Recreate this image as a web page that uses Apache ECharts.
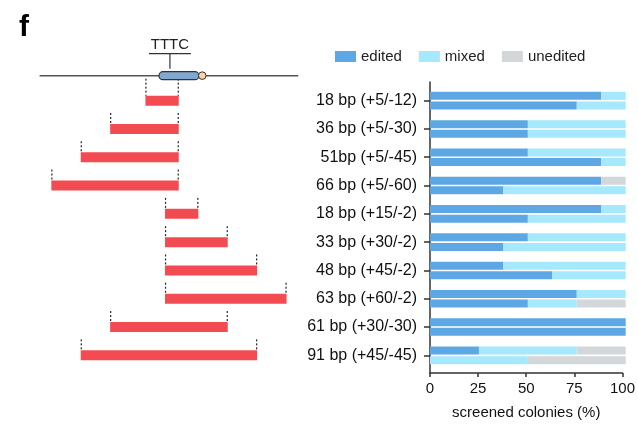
<!DOCTYPE html>
<html><head><meta charset="utf-8">
<script src="https://cdn.jsdelivr.net/npm/echarts@6/dist/echarts.min.js"></script>
<style>html,body{margin:0;padding:0;background:#fff}#c{width:638px;height:425px}</style>
</head><body><div id="c"></div>
<script>
const categories = ['18 bp (+5/-12)','36 bp (+5/-30)','51bp (+5/-45)','66 bp (+5/-60)','18 bp (+15/-2)','33 bp (+30/-2)','48 bp (+45/-2)','63 bp (+60/-2)','61 bp (+30/-30)','91 bp (+45/-45)'];
const delLeft  = [-12,-30,-45,-60,-2,-2,-2,-2,-30,-45];
const delRight = [5,5,5,5,15,30,45,60,30,45];
const edited1   = [87.5,50,50,87.5,87.5,50,37.5,75,100,25];
const mixed1    = [12.5,50,50,0,12.5,50,62.5,25,0,50];
const unedited1 = [0,0,0,12.5,0,0,0,0,0,25];
const edited2   = [75,50,87.5,37.5,50,37.5,62.5,50,100,0];
const mixed2    = [25,50,12.5,62.5,50,62.5,37.5,25,0,50];
const unedited2 = [0,0,0,0,0,0,0,25,0,50];
const xTicks = [0,25,50,75,100];
const seriesNames = ['edited','mixed','unedited'];
const colors = ['#5da7e4','#a6e8fe','#d3d7d9'];

const FONT = '"Liberation Sans", Arial, sans-serif';
const chart = echarts.init(document.getElementById('c'));

const delData = delLeft.map((l,i)=>[l, delRight[i], i]);

function barSeries(name, data, stack, color){
  return {type:'bar', name, data, stack, xAxisIndex:1, yAxisIndex:1,
    barWidth:8, barGap:'20%', itemStyle:{color}, emphasis:{disabled:true}, animation:false};
}

chart.setOption({
  animation:false,
  textStyle:{fontFamily:FONT},
  graphic:[{type:'text', left:19, top:13, style:{text:'f', font:'bold 30px '+FONT, fill:'#000'}}],
  legend:{left:330, top:44, itemWidth:21, itemHeight:11, itemGap:17,
    textStyle:{fontSize:15, color:'#222', fontFamily:FONT},
    data:seriesNames.map(n=>({name:n, icon:'rect'}))},
  grid:[
    {left:39.6, width:258.7, top:86.5, height:283},
    {left:430, width:195.7, top:86.5, height:283},
    {left:430, width:195.7, top:82, height:292}
  ],
  xAxis:[
    {gridIndex:0, type:'value', min:-66, max:66, show:false},
    {gridIndex:1, type:'value', min:0, max:100, show:false},
    {gridIndex:2, type:'value', min:0, max:100, interval:25,
      axisLine:{show:true, lineStyle:{color:'#333', width:1.5}},
      axisTick:{show:true, length:4, lineStyle:{color:'#333', width:1.5}}, splitLine:{show:false},
      axisLabel:{fontSize:15, color:'#111', margin:8, fontFamily:FONT,
        formatter:v=>xTicks.includes(v)?String(v):''},
      name:'screened colonies (%)', nameLocation:'middle', nameGap:32,
      nameTextStyle:{fontSize:15, color:'#111', fontFamily:FONT}}
  ],
  yAxis:[
    {gridIndex:0, type:'category', data:categories, inverse:true, show:false},
    {gridIndex:1, type:'category', data:categories, inverse:true,
      axisLine:{show:false},
      axisTick:{show:true, alignWithLabel:true, length:6, lineStyle:{color:'#333', width:1.5}},
      axisLabel:{fontSize:16, color:'#111', margin:13, fontFamily:FONT}},
    {gridIndex:2, type:'value', min:0, max:1, show:true,
      axisLine:{show:true, lineStyle:{color:'#333', width:1.5}},
      axisTick:{show:false}, axisLabel:{show:false}, splitLine:{show:false}}
  ],
  series:[
    barSeries('edited', edited1, 'r1', colors[0]),
    barSeries('mixed', mixed1, 'r1', colors[1]),
    barSeries('unedited', unedited1, 'r1', colors[2]),
    barSeries('edited', edited2, 'r2', colors[0]),
    barSeries('mixed', mixed2, 'r2', colors[1]),
    barSeries('unedited', unedited2, 'r2', colors[2]),
    {type:'custom', xAxisIndex:0, yAxisIndex:0, data:delData, silent:true,
      renderItem(params, api){
        const l = api.value(0), r = api.value(1), i = api.value(2);
        const p1 = api.coord([l, i]), p2 = api.coord([r, i]);
        const h = 10, top = p1[1] - h/2;
        const lineY = api.coord([0, 0])[1] - 25;
        const dotTop = i === 0 ? lineY + 3 : top - 11;
        const dash = {stroke:'#222', lineWidth:1.2, lineDash:[2,2]};
        return {type:'group', children:[
          {type:'rect', shape:{x:p1[0], y:top, width:p2[0]-p1[0], height:h}, style:{fill:'#f24b52'}},
          {type:'line', shape:{x1:p1[0]+0.5, y1:dotTop, x2:p1[0]+0.5, y2:top}, style:dash},
          {type:'line', shape:{x1:p2[0]-0.5, y1:dotTop, x2:p2[0]-0.5, y2:top}, style:dash}
        ]};
      }},
    {type:'custom', xAxisIndex:0, yAxisIndex:0, data:[[0]], silent:true, z:5,
      renderItem(params, api){
        const y = api.coord([0, 0])[1] - 25;
        const X = v => api.coord([v, 0])[0];
        return {type:'group', children:[
          {type:'line', shape:{x1:X(-66), y1:y, x2:X(66), y2:y}, style:{stroke:'#555', lineWidth:1.5}},
          {type:'rect', shape:{x:X(-5.1), y:y-4, width:X(15.3)-X(-5.1), height:8, r:4},
            style:{fill:'#7fa9d3', stroke:'#333', lineWidth:1.2}},
          {type:'circle', shape:{cx:X(17), cy:y, r:3.8}, style:{fill:'#fcd2a6', stroke:'#333', lineWidth:1}},
          {type:'line', shape:{x1:X(-10.2), y1:y-22, x2:X(11.2), y2:y-22}, style:{stroke:'#333', lineWidth:1.2}},
          {type:'line', shape:{x1:X(0.5), y1:y-22, x2:X(0.5), y2:y-7}, style:{stroke:'#333', lineWidth:1.2}},
          {type:'text', style:{x:X(0.5), y:y-23, text:'TTTC', align:'center', verticalAlign:'bottom',
            font:'15px '+FONT, fill:'#222'}}
        ]};
      }}
  ]
});
</script></body></html>
